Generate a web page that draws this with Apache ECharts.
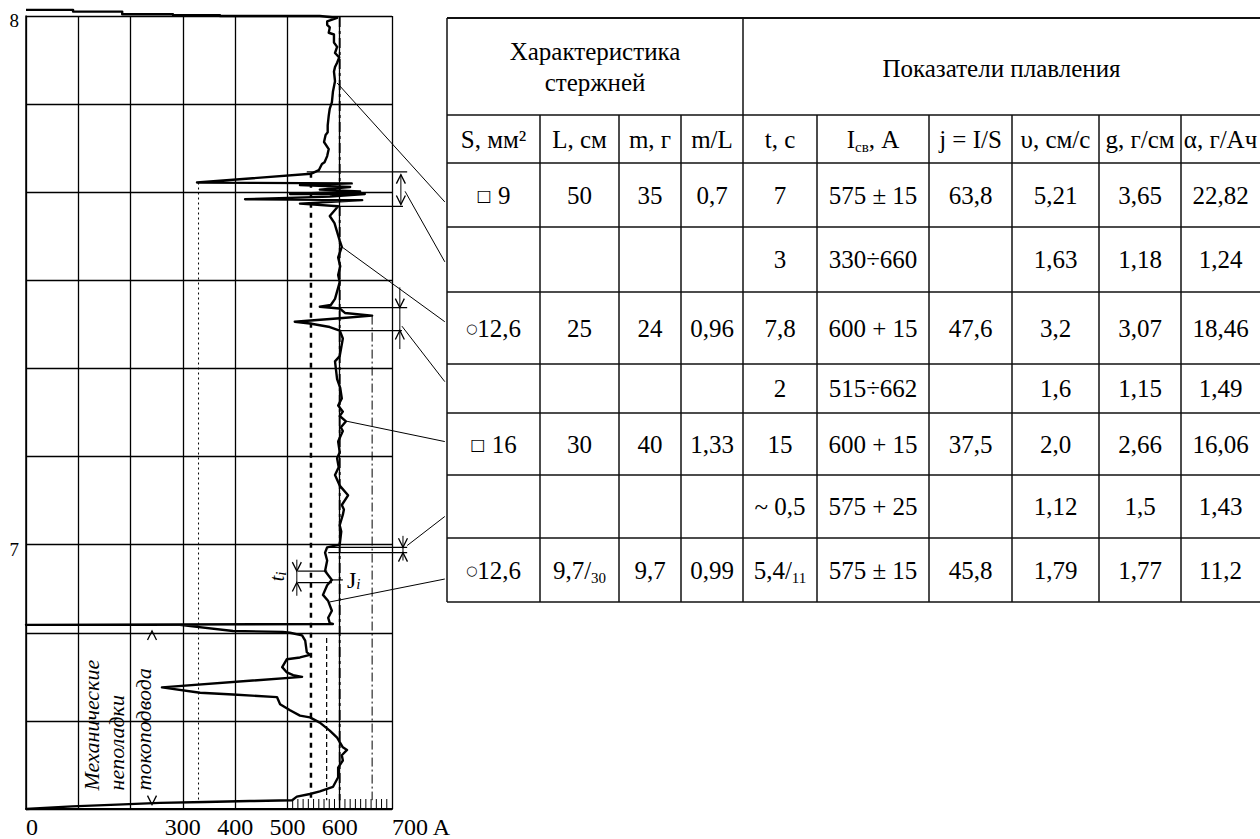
<!DOCTYPE html>
<html lang="ru">
<head>
<meta charset="utf-8">
<title>Плавление стержней</title>
<script src="https://cdn.jsdelivr.net/npm/echarts@6/dist/echarts.min.js"></script>
<style>
html,body{margin:0;padding:0;background:#fff;}
#chart{width:1260px;height:839px;}
</style>
</head>
<body>
<div id="chart"></div>
<script>
// ---- Recorder trace: welding current (A) against chart position (grid divisions) ----
const traceCurrent = [
  0, 90, 90, 184, 184, 281, 281, 371, 371, 562, 595, 576, 576, 581, 579, 589, 589, 595, 591, 599,
  595, 591, 589, 591, 587, 585, 581, 579, 577, 577, 573, 570, 579, 576, 571, 566, 560, 549, 545,
  327, 623, 524, 620, 562, 639, 505, 648, 581, 419, 643, 524, 597,
  581, 590, 595, 600, 604, 597, 601, 597, 600, 591, 583, 562, 600, 610, 662, 600, 514, 543, 581, 600, 606, 600, 591,
  595, 601, 604, 597, 606, 600, 612, 602, 606, 597, 600, 595, 598, 591, 600, 616, 604, 608, 606, 600, 603, 600,
  576, 572, 576, 572, 585, 576, 568, 578, 585, 578, 581, 587,
  0, 294, 396, 491, 505, 528, 534, 537, 543, 524, 499, 490, 499, 511, 528,
  260, 333, 396, 480, 486, 505, 524, 543, 562, 581, 595, 606, 614, 604, 606, 597, 597, 587,
  562, 543, 518, 509, 428, 342, 256, 174, 88, 0
];
const traceTime = [
  9.07, 9.07, 9.05, 9.05, 9.02, 9.02, 9.01, 9.01, 9.00, 9.00, 8.98, 8.94, 8.90, 8.87, 8.81, 8.79, 8.70, 8.65, 8.58, 8.53,
  8.47, 8.42, 8.37, 8.26, 8.14, 8.02, 7.95, 7.87, 7.76, 7.68, 7.65, 7.57, 7.49, 7.41, 7.34, 7.32, 7.25, 7.22, 7.21,
  7.11, 7.10, 7.08, 7.06, 7.03, 7.01, 6.98, 6.98, 6.95, 6.92, 6.91, 6.87, 6.84,
  6.73, 6.65, 6.55, 6.45, 6.38, 6.26, 6.16, 6.06, 5.98, 5.79, 5.72, 5.70, 5.68, 5.63, 5.60, 5.57, 5.53, 5.51, 5.47, 5.43, 5.34, 5.14, 5.08,
  4.88, 4.78, 4.66, 4.58, 4.51, 4.46, 4.40, 4.33, 4.29, 4.17, 4.05, 3.98, 3.88, 3.79, 3.67, 3.56, 3.45, 3.40, 3.34, 3.22, 3.15, 3.00,
  2.97, 2.91, 2.82, 2.70, 2.60, 2.54, 2.43, 2.36, 2.25, 2.17, 2.11, 2.10,
  2.09, 2.09, 2.02, 2.01, 2.00, 1.97, 1.91, 1.78, 1.75, 1.72, 1.70, 1.61, 1.55, 1.52, 1.50,
  1.38, 1.32, 1.30, 1.27, 1.19, 1.12, 1.06, 1.04, 0.98, 0.89, 0.81, 0.70, 0.67, 0.61, 0.55, 0.47, 0.36, 0.25,
  0.20, 0.17, 0.14, 0.10, 0.09, 0.08, 0.07, 0.05, 0.03, 0
];

// Axis tick labels
const xTickValues = [0, 300, 400, 500, 600, 700];
const xTickText = ['0', '300', '400', '500', '600', '700 A'];
const yTickValues = [3, 9];
const yTickText = ['7', '8'];

// Reference current levels: [current, from, current, to]
const refDotted330 = [[330, 7.11, 330, 0.10]];
const refDashed545 = [[545, 7.22, 545, 0.10]];
const refDashed575 = [[575, 1.94, 575, 0.10]];
const refDashDot600 = [[600, 8.99, 600, 0.10]];
const refDashDot662 = [[662, 5.60, 662, 0.10]];

// Dimension extension lines and arrow stems
const extensionLines = [
  [537, 7.23, 729, 7.23], [600, 6.84, 721, 6.84],
  [600, 5.69, 729, 5.69], [600, 5.43, 719, 5.43],
  [578, 2.97, 729, 2.97], [578, 2.91, 729, 2.91],
  [520, 2.70, 576, 2.70], [520, 2.57, 585, 2.57],
  [585, 2.60, 606, 2.60]
];
const arrowStems = [
  [717, 7.20, 717, 6.86], [715, 5.92, 715, 5.22], [721, 3.10, 721, 2.82], [518, 2.83, 518, 2.42]
];
// Arrow heads: [current, position, direction (1 up, -1 down)]
const arrowHeads = [
  [717, 7.20, 1], [717, 6.86, -1],
  [715, 5.69, -1], [715, 5.43, 1],
  [721, 2.97, -1], [721, 2.91, 1],
  [518, 2.70, -1], [518, 2.57, 1],
  [241, 2.02, 1], [241, 0.05, -1]
];
// Leader lines from the trace to table rows
const leaderLines = [
  [595, 8.24, 801, 6.89], [725, 7.01, 801, 6.21], [604, 6.38, 801, 5.53],
  [719, 5.48, 801, 4.85], [614, 4.40, 801, 4.17], [729, 2.99, 801, 3.32],
  [581, 2.35, 801, 2.61]
];
// Fine current scale near the bottom edge
const fineScale = [510, 520, 530, 540, 550, 560, 570, 580, 590, 600, 610, 620, 630, 640, 650, 660, 670, 680, 690];

// Notes on the chart
const noteText = ['Механические', 'неполадки', 'токоподвода'];
const noteCurrent = [126, 174, 224];
const noteTime = [0.21, 0.21, 0.21];
const symbolText = ['t{i|i}', 'J{i|i}'];
const symbolCurrent = [480, 614];
const symbolTime = [2.64, 2.60];

// ---- Table ----
const tableGroupHeaders = ['Характеристика\nстержней', 'Показатели плавления'];
const tableColumnHeaders = ['S, мм²', 'L, см', 'm, г', 'm/L', 't, с', 'I{sub|св}, А', 'j = I/S', 'υ, см/с', 'g, г/см', 'α, г/Ач'];
const tableRows = [
  ['{sq|□} 9', '50', '35', '0,7', '7', '575 ± 15', '63,8', '5,21', '3,65', '22,82'],
  ['', '', '', '', '3', '330÷660', '', '1,63', '1,18', '1,24'],
  ['{ci|○}12,6', '25', '24', '0,96', '7,8', '600 + 15', '47,6', '3,2', '3,07', '18,46'],
  ['', '', '', '', '2', '515÷662', '', '1,6', '1,15', '1,49'],
  ['{sq|□} 16', '30', '40', '1,33', '15', '600 + 15', '37,5', '2,0', '2,66', '16,06'],
  ['', '', '', '', '~ 0,5', '575 + 25', '', '1,12', '1,5', '1,43'],
  ['{ci|○}12,6', '9,7/{sub|30}', '9,7', '0,99', '5,4/{sub|11}', '575 ± 15', '45,8', '1,79', '1,77', '11,2']
];

// ---- Layout ----
const FONT = '"Liberation Serif", "Times New Roman", serif';
const colEdges = [447, 540, 619, 681, 743, 817, 929, 1012, 1099, 1181, 1260];
const rowEdges = [18, 115, 163, 227, 292, 364, 413, 475, 538, 602];
const groupSplitCol = 4;
const INK = '#000';

const RICH = {
  sub: { fontSize: 15, fontFamily: FONT, lineHeight: 15, verticalAlign: 'bottom', fill: INK },
  sq: { fontSize: 16, fontFamily: '"DejaVu Sans", sans-serif', lineHeight: 30, fill: INK },
  ci: { fontSize: 13, fontFamily: '"DejaVu Sans", sans-serif', lineHeight: 30, fill: INK }
};

function cellText(text, cx, cy, lineHeight) {
  return {
    type: 'text', x: cx, y: cy, silent: true,
    style: {
      text: text, fontSize: 25, fontFamily: FONT, fill: INK, align: 'center', verticalAlign: 'middle',
      lineHeight: lineHeight || 30, rich: RICH
    }
  };
}

function hLine(x1, x2, y, w) {
  return { type: 'line', silent: true, shape: { x1: x1, y1: y, x2: x2, y2: y }, style: { stroke: '#111', lineWidth: w || 1.5 } };
}
function vLine(x, y1, y2, w) {
  return { type: 'line', silent: true, shape: { x1: x, y1: y1, x2: x, y2: y2 }, style: { stroke: '#111', lineWidth: w || 1.5 } };
}

function buildTable() {
  const els = [];
  const left = colEdges[0], right = colEdges[colEdges.length - 1];
  const top = rowEdges[0], bottom = rowEdges[rowEdges.length - 1];
  rowEdges.forEach((y, i) => els.push(hLine(left, right, y, i === 0 ? 2 : 1.5)));
  colEdges.slice(0, -1).forEach((x, i) => {
    const fromY = (i === 0 || i === groupSplitCol) ? top : rowEdges[1];
    els.push(vLine(x, fromY, bottom, 1.5));
  });
  // group headers
  const split = colEdges[groupSplitCol];
  const hy = (rowEdges[0] + rowEdges[1]) / 2;
  els.push(cellText(tableGroupHeaders[0], (left + split) / 2, hy, 31));
  els.push(cellText(tableGroupHeaders[1], (split + right) / 2, hy + 2));
  // column headers
  const cy = (rowEdges[1] + rowEdges[2]) / 2;
  tableColumnHeaders.forEach((t, c) => els.push(cellText(t, (colEdges[c] + colEdges[c + 1]) / 2, cy)));
  // body
  tableRows.forEach((row, r) => {
    const y = (rowEdges[r + 2] + rowEdges[r + 3]) / 2;
    row.forEach((t, c) => {
      if (t) els.push(cellText(t, (colEdges[c] + colEdges[c + 1]) / 2, y));
    });
  });
  return els;
}

function segmentSeries(segs, style) {
  return {
    type: 'custom', coordinateSystem: 'cartesian2d', silent: true, clip: false, animation: false,
    encode: { x: [0, 2], y: [1, 3] },
    data: segs,
    renderItem: function (params, api) {
      const a = api.coord([api.value(0), api.value(1)]);
      const b = api.coord([api.value(2), api.value(3)]);
      return {
        type: 'line',
        shape: { x1: a[0], y1: a[1], x2: b[0], y2: b[1] },
        style: Object.assign({ stroke: INK, fill: null, lineWidth: 1 }, style)
      };
    }
  };
}

const tracePoints = traceCurrent.map((c, i) => [c, traceTime[i]]);

const option = {
  backgroundColor: '#fff',
  animation: false,
  grid: { left: 26, top: 16, width: 366, height: 796, containLabel: false },
  xAxis: {
    type: 'value', min: 0, max: 700, interval: 100,
    axisLine: { show: true, onZero: false, lineStyle: { color: INK, width: 2 } },
    axisTick: { show: false },
    splitLine: { show: true, lineStyle: { color: INK, width: 1.3 } },
    axisLabel: {
      color: INK, fontFamily: FONT, fontSize: 24, margin: 6,
      alignMinLabel: 'left', alignMaxLabel: 'left',
      formatter: function (v) {
        const k = xTickValues.indexOf(v);
        return k >= 0 ? xTickText[k] : '';
      }
    }
  },
  yAxis: {
    type: 'value', min: 0, max: 9, interval: 1,
    axisLine: { show: true, onZero: false, lineStyle: { color: INK, width: 1.5 } },
    axisTick: { show: false },
    splitLine: { show: true, lineStyle: { color: INK, width: 1.3 } },
    axisLabel: {
      color: INK, fontFamily: FONT, fontSize: 19, margin: 7,
      formatter: function (v) {
        const k = yTickValues.indexOf(v);
        return k >= 0 ? '{lbl|' + yTickText[k] + '}' : '';
      },
      rich: { lbl: { fontFamily: FONT, fontSize: 19, color: INK, padding: [9, 0, 0, 0] } }
    }
  },
  graphic: buildTable(),
  series: [
    segmentSeries(refDotted330, { lineWidth: 1, lineDash: [2, 3] }),
    segmentSeries(refDashed545, { lineWidth: 2.5, lineDash: [5, 5] }),
    segmentSeries(refDashed575, { lineWidth: 1.2, lineDash: [5, 3] }),
    segmentSeries(refDashDot600, { lineWidth: 1.8, lineDash: [10, 4, 3, 4] }),
    segmentSeries(refDashDot662, { lineWidth: 1, lineDash: [9, 3, 2, 3] }),
    segmentSeries(extensionLines, { lineWidth: 1.2 }),
    segmentSeries(arrowStems, { lineWidth: 1 }),
    segmentSeries(leaderLines, { lineWidth: 1 }),
    {
      type: 'custom', coordinateSystem: 'cartesian2d', silent: true, clip: false,
      data: arrowHeads,
      renderItem: function (params, api) {
        const p = api.coord([api.value(0), api.value(1)]);
        const s = api.value(2) > 0 ? 1 : -1;
        return {
          type: 'polyline',
          shape: { points: [[p[0] - 4.5, p[1] + 9 * s], [p[0], p[1]], [p[0] + 4.5, p[1] + 9 * s]] },
          style: { stroke: INK, fill: null, lineWidth: 1.3 }
        };
      }
    },
    {
      type: 'custom', coordinateSystem: 'cartesian2d', silent: true, clip: false,
      data: fineScale.map(v => [v, 0]),
      renderItem: function (params, api) {
        const p = api.coord([api.value(0), api.value(1)]);
        return { type: 'line', shape: { x1: p[0], y1: p[1], x2: p[0], y2: p[1] - 10 }, style: { stroke: INK, lineWidth: 1 } };
      }
    },
    {
      type: 'line', data: tracePoints, showSymbol: false, symbol: 'none', clip: false, smooth: false,
      lineStyle: { color: INK, width: 2.4, join: 'round' }, z: 5
    },
    {
      type: 'custom', coordinateSystem: 'cartesian2d', silent: true, clip: false,
      data: noteText.map((t, i) => [noteCurrent[i], noteTime[i]]),
      renderItem: function (params, api) {
        const p = api.coord([api.value(0), api.value(1)]);
        return {
          type: 'text', x: p[0], y: p[1], rotation: Math.PI / 2,
          style: { text: noteText[params.dataIndex], fontFamily: FONT, fontStyle: 'italic', fontSize: 22, fill: INK, align: 'left', verticalAlign: 'middle' }
        };
      }
    },
    {
      type: 'custom', coordinateSystem: 'cartesian2d', silent: true, clip: false,
      data: symbolText.map((t, i) => [symbolCurrent[i], symbolTime[i]]),
      renderItem: function (params, api) {
        const p = api.coord([api.value(0), api.value(1)]);
        const first = params.dataIndex === 0;
        return {
          type: 'text', x: p[0], y: p[1], rotation: first ? Math.PI / 2 : 0,
          style: {
            text: symbolText[params.dataIndex], fontFamily: FONT, fontStyle: first ? 'italic' : 'normal',
            fontSize: first ? 20 : 24, lineHeight: 24, fill: INK, align: first ? 'center' : 'left', verticalAlign: 'middle',
            rich: { i: { fontFamily: FONT, fontStyle: 'italic', fontSize: 15, lineHeight: 15, verticalAlign: 'bottom', fill: INK } }
          }
        };
      }
    }
  ]
};

const chart = echarts.init(document.getElementById('chart'), null, { renderer: 'svg', width: 1260, height: 839 });
chart.setOption(option);
</script>
</body>
</html>
